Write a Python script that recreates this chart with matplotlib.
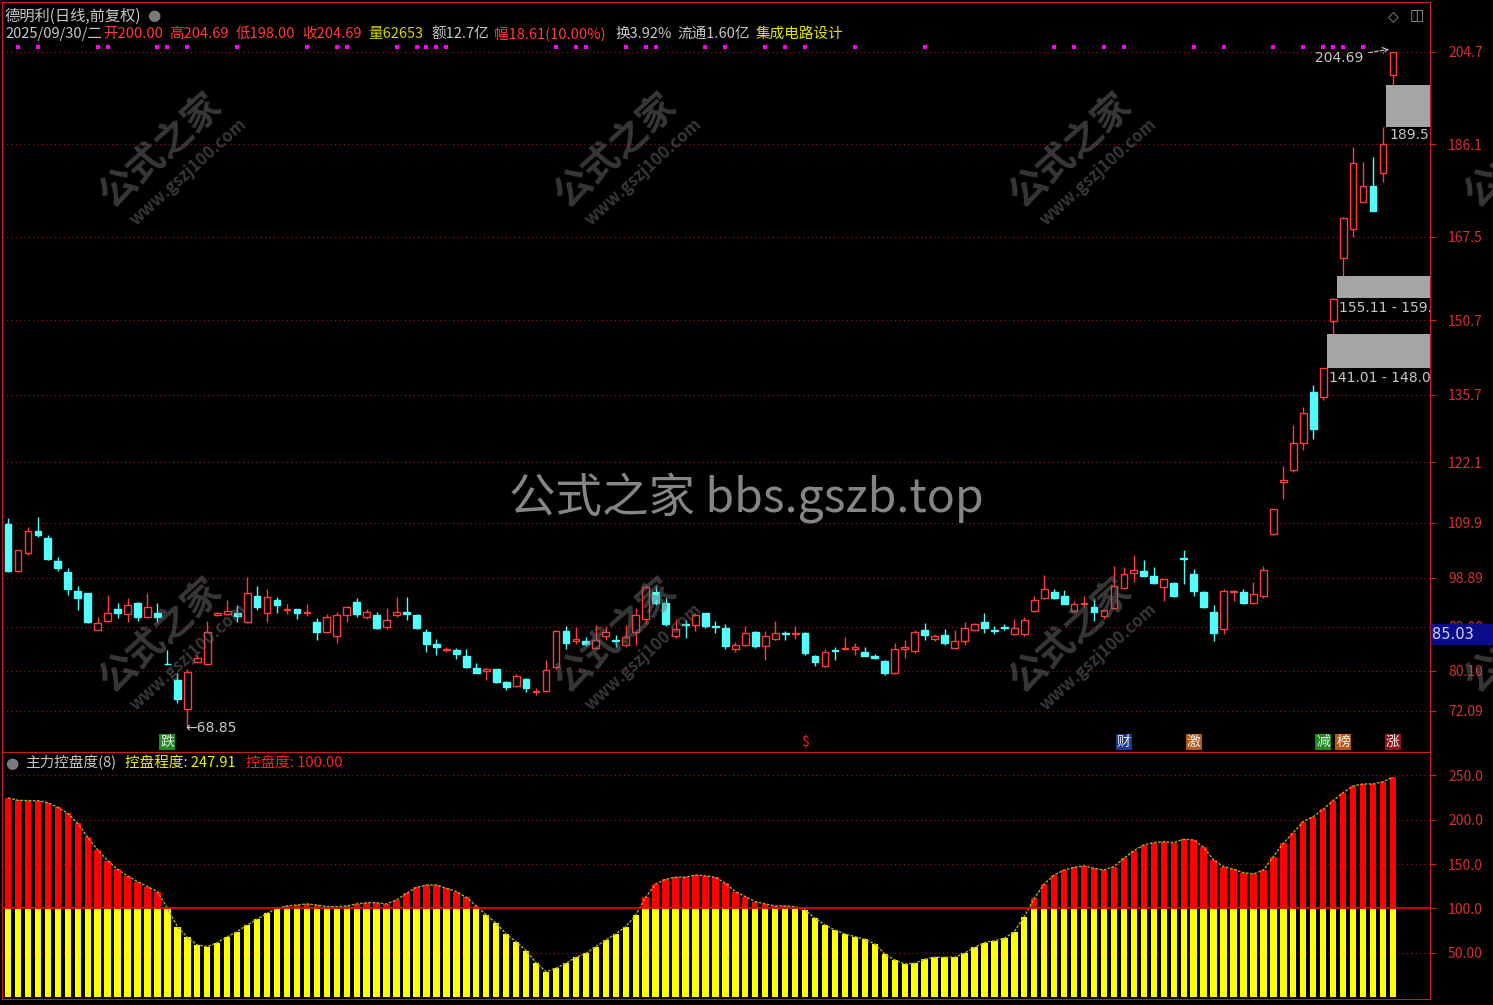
import matplotlib
matplotlib.use('Agg')
import matplotlib.pyplot as plt
import numpy as np

plt.rcParams['font.family'] = ['Noto Sans CJK SC', 'DejaVu Sans']

# 德明利 日线 前复权, one candle per trading day
opens = [109.7, 100.2, 103.8, 108.3, 106.9, 102.2, 100.0, 96.2, 95.8, 88.4,
         90.2, 92.6, 91.6, 93.8, 91.0, 91.8, 81.6, 78.2, 72.5, 82.0,
         81.6, 91.4, 91.5, 91.8, 89.9, 95.2, 91.8, 94.4, 92.4, 92.6,
         91.7, 89.9, 87.9, 87.1, 91.4, 94.0, 91.0, 91.4, 88.9, 91.4,
         92.0, 91.4, 88.0, 85.5, 84.3, 84.3, 83.1, 80.7, 80.0, 80.5,
         77.8, 77.0, 78.4, 75.8, 76.0, 80.9, 88.1, 86.1, 86.1, 84.7,
         87.1, 86.3, 85.3, 87.9, 90.5, 96.0, 93.8, 87.1, 89.6, 89.3,
         91.8, 89.2, 88.7, 84.5, 85.3, 87.9, 85.1, 86.5, 87.8, 87.5,
         87.7, 83.1, 81.2, 84.4, 84.5, 84.5, 83.9, 83.1, 82.1, 79.7,
         84.5, 84.1, 88.3, 86.5, 87.3, 84.7, 86.1, 88.3, 89.9, 88.3,
         88.9, 87.6, 87.6, 92.2, 94.8, 96.0, 95.2, 92.2, 93.6, 93.0,
         91.2, 92.8, 96.8, 99.8, 100.2, 99.2, 97.0, 97.8, 102.9, 99.6,
         96.0, 92.0, 88.6, 96.0, 96.0, 93.8, 95.2, 107.6, 118.2, 120.5,
         126.0, 136.2, 135.2, 150.5, 163.2, 169.0, 174.5, 177.7, 180.3, 200.0]
highs = [110.9, 104.5, 109.1, 111.1, 107.5, 103.0, 100.8, 97.2, 95.8, 91.0,
         95.4, 93.8, 94.8, 94.0, 95.8, 93.8, 84.4, 79.6, 80.4, 83.4,
         90.1, 92.0, 94.4, 93.4, 99.0, 97.2, 96.6, 95.0, 93.6, 92.6,
         93.6, 90.8, 91.6, 92.0, 93.2, 94.8, 92.6, 92.0, 92.8, 95.0,
         95.0, 91.6, 88.6, 86.5, 85.0, 84.7, 84.5, 81.7, 80.7, 80.6,
         78.0, 79.4, 78.6, 76.6, 82.3, 88.3, 89.1, 88.9, 86.9, 89.3,
         89.1, 87.3, 89.3, 92.8, 97.5, 97.2, 94.8, 90.5, 90.3, 91.8,
         91.8, 90.1, 89.5, 85.9, 89.1, 88.1, 88.1, 90.1, 88.1, 89.1,
         87.9, 83.3, 84.5, 84.9, 86.9, 85.7, 84.9, 83.5, 82.3, 85.7,
         86.3, 88.3, 89.7, 87.5, 88.5, 88.3, 89.9, 89.7, 91.8, 89.1,
         89.5, 90.6, 90.9, 95.2, 99.4, 96.6, 96.4, 94.2, 95.2, 94.6,
         92.4, 101.2, 101.0, 103.5, 102.4, 101.0, 98.6, 98.0, 104.5, 100.6,
         96.2, 93.4, 96.6, 96.4, 96.6, 98.0, 101.2, 112.7, 121.3, 129.5,
         133.2, 137.6, 141.01, 155.11, 171.5, 185.5, 182.5, 183.5, 189.5, 204.69]
lows = [100.0, 100.0, 103.4, 107.1, 102.4, 100.2, 95.4, 92.4, 89.7, 88.4,
        90.0, 90.8, 89.9, 90.2, 90.8, 90.0, 81.4, 73.6, 68.85, 82.0,
        81.4, 91.2, 91.3, 89.9, 89.7, 92.4, 89.9, 91.8, 91.6, 90.6,
        91.2, 86.3, 87.7, 85.7, 89.9, 91.0, 90.6, 88.6, 88.6, 91.0,
        90.3, 88.6, 83.9, 83.3, 84.0, 82.5, 80.7, 79.7, 78.2, 77.6,
        76.2, 76.8, 75.9, 75.2, 75.9, 80.5, 84.6, 85.5, 85.2, 84.5,
        86.3, 85.0, 85.0, 85.3, 89.5, 93.4, 89.1, 86.7, 86.7, 88.1,
        88.7, 87.7, 84.5, 83.9, 85.1, 84.7, 82.3, 86.3, 86.3, 86.5,
        83.3, 81.2, 80.9, 82.3, 84.3, 83.3, 83.1, 82.5, 79.3, 79.5,
        82.7, 83.7, 86.3, 86.1, 85.3, 84.5, 85.3, 88.1, 87.7, 87.5,
        88.3, 87.4, 87.2, 92.0, 94.6, 94.6, 93.6, 92.0, 93.0, 90.2,
        90.6, 92.6, 96.6, 98.0, 99.2, 97.6, 94.2, 95.0, 97.6, 95.2,
        92.8, 86.1, 87.6, 94.2, 93.6, 93.6, 94.8, 107.5, 114.7, 120.1,
        124.6, 126.8, 134.6, 148.0, 159.6, 167.4, 174.5, 172.6, 178.5, 198.0]
closes = [100.2, 104.4, 108.3, 107.5, 102.6, 100.8, 96.6, 94.8, 89.9, 89.7,
          91.8, 91.8, 93.4, 91.0, 93.0, 91.0, 81.5, 74.4, 79.8, 82.7,
          87.9, 91.8, 92.1, 91.2, 95.8, 93.0, 95.0, 93.4, 92.6, 91.8,
          91.9, 87.9, 91.0, 91.4, 93.0, 91.6, 92.0, 88.8, 90.3, 92.0,
          91.6, 88.8, 85.5, 84.9, 84.6, 83.6, 80.9, 79.7, 80.4, 77.8,
          76.8, 79.0, 76.6, 76.1, 80.2, 88.1, 85.7, 86.5, 85.5, 86.3,
          87.9, 86.1, 86.9, 91.4, 97.0, 93.8, 89.5, 88.5, 89.3, 91.4,
          89.1, 88.9, 85.1, 85.3, 87.7, 85.1, 87.1, 87.7, 87.6, 87.8,
          83.7, 81.9, 83.9, 84.2, 84.7, 84.9, 83.1, 82.7, 79.7, 84.5,
          84.9, 87.9, 87.3, 87.1, 85.7, 86.1, 88.7, 89.5, 88.7, 88.1,
          88.7, 88.8, 90.4, 94.4, 96.6, 94.8, 93.6, 93.6, 93.8, 92.0,
          92.4, 97.2, 99.6, 100.4, 99.2, 97.8, 98.6, 95.2, 102.7, 96.2,
          93.0, 87.7, 96.2, 96.2, 93.8, 95.6, 100.4, 112.6, 118.6, 126.0,
          132.0, 128.8, 141.0, 155.0, 171.2, 182.3, 177.7, 172.6, 186.08, 204.69]

# 主力控盘度(8): 控盘程度
ctrl = [224.6, 222.0, 221.6, 221.6, 219.3, 214.0, 207.3, 196.0, 180.2, 166.0,
        153.9, 144.1, 136.6, 130.2, 124.5, 118.9, 100.1, 79.4, 67.4, 58.7,
        56.8, 61.3, 68.0, 73.7, 81.3, 87.7, 94.5, 100.1, 102.7, 103.8,
        105.0, 103.8, 101.9, 101.9, 102.7, 105.0, 106.4, 106.4, 105.0, 109.5,
        117.0, 123.8, 126.4, 126.4, 122.7, 118.9, 112.5, 102.7, 92.5, 83.2,
        71.1, 62.4, 52.3, 38.7, 28.6, 32.3, 38.0, 44.8, 49.3, 56.8,
        64.3, 71.1, 79.4, 92.5, 112.5, 127.5, 132.8, 135.1, 135.1, 137.7,
        136.6, 135.1, 128.3, 118.9, 113.2, 107.6, 105.0, 102.7, 102.7, 101.9,
        98.2, 88.8, 81.3, 75.6, 71.1, 68.1, 65.1, 59.8, 48.5, 41.8,
        37.2, 38.0, 42.5, 44.8, 44.8, 44.8, 49.3, 56.1, 61.3, 63.5,
        66.2, 73.7, 90.6, 111.4, 127.5, 137.7, 143.3, 146.3, 147.9, 145.2,
        143.3, 147.1, 156.5, 165.1, 171.6, 174.2, 175.3, 174.2, 178.0, 177.2,
        169.0, 154.6, 147.1, 144.1, 140.3, 138.8, 143.3, 158.4, 173.5, 185.4,
        197.9, 203.5, 211.9, 221.6, 230.6, 238.1, 240.4, 240.4, 243.0, 247.91]
ctrl_line = 100.0

price_ticks = [204.7, 186.1, 167.5, 150.7, 135.7, 122.1, 109.9, 98.89, 89.00, 80.10, 72.09]
price_tick_labels = ['204.7', '186.1', '167.5', '150.7', '135.7', '122.1', '109.9', '98.89', '89.00', '80.10', '72.09']
ctrl_ticks = [250, 200, 150, 100, 50]
ctrl_tick_labels = ['250.0', '200.0', '150.0', '100.0', '50.00']

# price gaps (candle before the gap, gap low, gap high)
gap_idx = [132, 133, 138]
gap_lo = [141.01, 155.11, 189.5]
gap_hi = [148.0, 159.6, 198.0]
gap_text = ['141.01 - 148.0', '155.11 - 159.60', '189.5']

# signal dots on top row
dot_idx = [1, 3, 9, 10, 15, 16, 18, 23, 30, 33, 34, 39, 41, 42, 43, 44, 55, 57, 58, 62,
           64, 65, 70, 72, 76, 78, 80, 85, 92, 105, 107, 110, 112, 119, 122, 127, 130,
           132, 133, 134, 136]

# event tags at the bottom of the price panel
event_idx = [16, 80, 112, 119, 132, 134, 139]
event_txt = ['跌', '$', '财', '激', '减', '榜', '涨']
event_bg = ['#1e8c1e', 'none', '#1e3c8c', '#b45a14', '#1e8c1e', '#b45a14', '#8c1414']
event_fg = ['#e8e8e8', '#ff2020', '#e8e8e8', '#f0f0f0', '#e8e8e8', '#f0f0f0', '#f0f0f0']

W, H = 1493, 1005
UP = '#ff3c3c'
DN = '#54fcfc'
AXRED = '#c81e1e'
LBL = '#d23232'
GRID = '#8c1414'
TXT = '#c8c8c8'

fig = plt.figure(figsize=(W / 100, H / 100), dpi=100, facecolor='black')
ax = fig.add_axes([2 / W, 1 - 752 / H, 1428 / W, 750 / H])
ax2 = fig.add_axes([2 / W, 1 - 999 / H, 1428 / W, 247 / H])

o = np.array(opens); h = np.array(highs); l = np.array(lows); c = np.array(closes)
n = len(c)
idx = np.arange(n)
up = c >= o
blo = np.minimum(o, c)
bhi = np.maximum(o, c)

# ---- price panel
ax.set_facecolor('black')
for t in price_ticks:
    ax.axhline(t, color=GRID, lw=0.9, ls=(0, (1, 2.5)), zorder=0)

ax.vlines(idx[up], bhi[up], h[up], color=UP, lw=1, zorder=2)
ax.vlines(idx[up], l[up], blo[up], color=UP, lw=1, zorder=2)
ax.vlines(idx[~up], l[~up], h[~up], color=DN, lw=1, zorder=2)
ax.bar(idx[up], np.maximum(bhi[up] - blo[up], 0.05), bottom=blo[up], width=0.68,
       facecolor='black', edgecolor=UP, lw=1, zorder=3)
ax.bar(idx[~up], np.maximum(bhi[~up] - blo[~up], 0.05), bottom=blo[~up], width=0.68,
       facecolor=DN, edgecolor=DN, lw=1, zorder=3)

gi = np.array(gap_idx)
ax.bar(gi + 0.35, np.array(gap_hi) - np.array(gap_lo), bottom=gap_lo, width=20,
       align='edge', color='#a5a5a5', zorder=1)
ax.text(gap_idx[0] + 0.6, gap_lo[0] - 2.0, gap_text[0], color=TXT, fontsize=10,
        family='DejaVu Sans', va='center', ha='left', zorder=5)
ax.text(gap_idx[1] + 0.6, gap_lo[1] - 2.0, gap_text[1], color=TXT, fontsize=10,
        family='DejaVu Sans', va='center', ha='left', zorder=5, clip_on=True)
ax.text(gap_idx[2] + 0.6, gap_lo[2] - 1.6, gap_text[2], color=TXT, fontsize=10,
        family='DejaVu Sans', va='center', ha='left', zorder=5)

# high / low marks
ax.annotate('%.2f' % h[-1], xy=(n - 1.1, h[-1] + 0.6), xytext=(n - 4.0, h[-1] - 1.2),
            color=TXT, fontsize=10, family='DejaVu Sans', ha='right', va='center',
            arrowprops=dict(arrowstyle='->', color=TXT, lw=0.8, ls='--'), zorder=5)
lo_i = int(np.argmin(l))
ax.text(lo_i - 0.2, l[lo_i] - 0.3, '←%.2f' % l[lo_i], color=TXT, fontsize=10,
        family='DejaVu Sans', ha='left', va='center', zorder=5)

ax.scatter(dot_idx, [0.94] * len(dot_idx), transform=ax.get_xaxis_transform(),
           marker='s', s=5, color='#ff00ff', lw=0, zorder=4)

for i, t, bg, fg in zip(event_idx, event_txt, event_bg, event_fg):
    kw = {}
    if bg != 'none':
        kw['bbox'] = dict(boxstyle='square,pad=0.08', fc=bg, ec='none')
    ax.text(i, 0.013, t, transform=ax.get_xaxis_transform(), color=fg, fontsize=10,
            ha='center', va='center', zorder=5, **kw)

ax.set_xlim(-0.602, 142.72)
ax.set_ylim(63.8, 214.7)
ax.set_xticks([])
ax.yaxis.tick_right()
ax.set_yticks(price_ticks)
ax.set_yticklabels(price_tick_labels)
ax.tick_params(axis='y', colors=AXRED, labelcolor=LBL, labelsize=10, length=4, pad=9)
for s in ax.spines.values():
    s.set_color(AXRED)

# ---- 主力控盘度 panel
v = np.array(ctrl)
ax2.set_facecolor('black')
for t in ctrl_ticks:
    if t != ctrl_line:
        ax2.axhline(t, color=GRID, lw=0.9, ls=(0, (1, 2.5)), zorder=0)
ax2.bar(idx, np.minimum(v, ctrl_line), width=0.64, color='#ffff00', zorder=2)
hi = v > ctrl_line
ax2.bar(idx[hi], v[hi] - ctrl_line, bottom=ctrl_line, width=0.64, color='#ff0000', zorder=2)
ax2.plot(idx, v, color='#a8a83c', lw=1, ls=(0, (2, 1)), zorder=3)
ax2.axhline(ctrl_line, color='#e00000', lw=1.3, zorder=3)
ax2.set_xlim(-0.602, 142.72)
ax2.set_ylim(-2.3, 276.5)
ax2.set_xticks([])
ax2.yaxis.tick_right()
ax2.set_yticks(ctrl_ticks)
ax2.set_yticklabels(ctrl_tick_labels)
ax2.tick_params(axis='y', colors=AXRED, labelcolor=LBL, labelsize=10, length=4, pad=9)
for s in ax2.spines.values():
    s.set_color(AXRED)

# ---- header texts
def ftext(px, py, s, color, size=10.5, **kw):
    fig.text(px / W, 1 - py / H, s, color=color, fontsize=size, va='center', ha='left', **kw)

ftext(5, 16, '德明利(日线,前复权)', TXT, 11)
ftext(147, 16, '●', '#7a7a7a', 11, family='DejaVu Sans')
RED = '#ff3a3a'
YEL = '#e6e600'
line2 = [('2025/09/30/二', 5, TXT), ('开200.00', 103, RED), ('高204.69', 169, RED),
         ('低198.00', 236, RED), ('收204.69', 302, RED), ('量62653', 368, '#d2d200'),
         ('额12.7亿', 431, TXT), ('幅18.61(10.00%)', 494, RED), ('换3.92%', 615, TXT),
         ('流通1.60亿', 677, TXT), ('集成电路设计', 756, YEL)]
for s, px, col in line2:
    ftext(px, 34, s, col)
ftext(1388, 16, '◇', '#9a9a9a', 10, family='DejaVu Sans')
ftext(1410, 16, '◫', '#9a9a9a', 11, family='DejaVu Sans')

ftext(5, 763, '●', '#7a7a7a', 11, family='DejaVu Sans')
ftext(25, 763, '主力控盘度(8)', TXT, 10.5)
ftext(125, 763, '控盘程度: %.2f' % ctrl[-1], '#f0f000', 10.5)
ftext(246, 763, '控盘度: %.2f' % ctrl_line, '#ff2020', 10.5)

# current value box on price axis
fig.patches.append(plt.Rectangle((1431 / W, 1 - 644 / H), 62 / W, 20 / H,
                                 transform=fig.transFigure, color='#0c0c8c', zorder=5))
fig.text(1432 / W, 1 - 634 / H, '85.03', color='#d2d2ff', fontsize=10.5,
         family='DejaVu Sans', va='center', ha='left', zorder=6)

# watermarks
for cx in [160, 615, 1070, 1525]:
    for cy in [150, 635]:
        fig.text(cx / W, 1 - cy / H, '公式之家', color='#6e6e6e', alpha=0.5, fontsize=27,
                 fontweight='bold', rotation=42, ha='center', va='center', zorder=4)
        fig.text((cx + 28) / W, 1 - (cy + 22) / H, 'www.gszj100.com', color='#6e6e6e',
                 alpha=0.5, fontsize=12, fontweight='bold', rotation=42,
                 ha='center', va='center', zorder=4)
fig.text(746 / W, 1 - 498 / H, '公式之家 bbs.gszb.top', color='#a8a8a8', alpha=0.8,
         fontsize=33.5, ha='center', va='center', zorder=4)

fig.savefig('out.png', dpi=100, facecolor='black')
